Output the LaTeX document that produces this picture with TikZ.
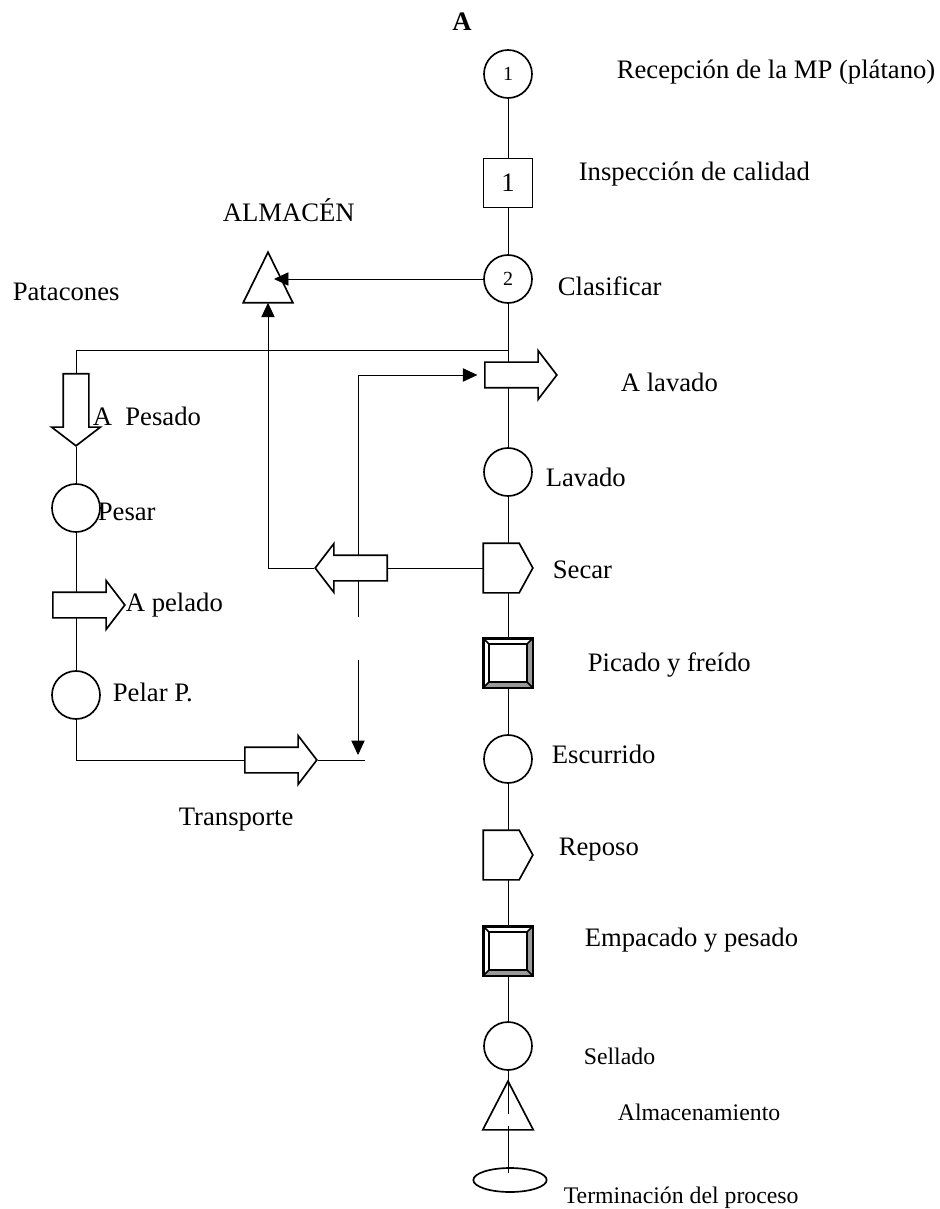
\documentclass[tikz,border=0pt]{standalone}
\usepackage{fontspec}
\setmainfont{Liberation Serif}
\usetikzlibrary{shapes.geometric,shapes.arrows,arrows.meta,calc,backgrounds}
\newcommand{\bevelbox}[1]{%
 \fill[black!40] (#1.south west) -- (#1.south east) -- ($(#1.south east)+(-6,-6)$) -- ($(#1.south west)+(6,-6)$) -- cycle;
 \fill[black!40] (#1.south east) -- (#1.north east) -- ($(#1.north east)+(-6,6)$) -- ($(#1.south east)+(-6,-6)$) -- cycle;
 \draw ($(#1.north west)+(6,6)$) rectangle ($(#1.south east)+(-6,-6)$);
 \draw (#1.north west) -- ++(6,6) (#1.north east) -- ++(-6,6) (#1.south west) -- ++(6,-6) (#1.south east) -- ++(-6,-6);
 \draw (#1.north west) rectangle (#1.south east);
}
\newcommand{\pentshape}[1]{%
 \draw[fill=white] (#1.north west) -- ($(#1.north west)+(36,0)$) -- (#1.east) -- ($(#1.south west)+(36,0)$) -- (#1.south west) -- cycle;
}
\newcommand{\trishape}[1]{%
 \draw (#1.north) -- (#1.south east) -- (#1.south west) -- cycle;
}
\begin{document}
\begin{tikzpicture}[x=0.45pt,y=-0.45pt, line width=0.75pt,
  op/.style={circle, draw, fill=white, minimum size=21.6pt, inner sep=0pt},
  insp/.style={rectangle, draw, fill=white, minimum size=22pt, inner sep=0pt},
  boxn/.style={rectangle, minimum width=21.6pt, minimum height=21.6pt, inner sep=0pt},
  barrow/.style={single arrow, draw, fill=white, inner xsep=0pt, inner ysep=5.4pt, minimum width=0pt, minimum height=32.4pt, single arrow head extend=5.2pt, single arrow tip angle=105},
  lbl/.style={anchor=base west, inner sep=0pt, font=\fontsize{12}{14}\selectfont},
  slbl/.style={anchor=base west, inner sep=0pt, font=\fontsize{10.7}{13}\selectfont},
  arr/.style={-{Triangle[length=6.5pt,width=6pt]}},
]
\useasboundingbox (0,0) rectangle (939,1209);

% main column
\node[op, font=\fontsize{9}{9}\selectfont] (c1) at (508,74) {\raisebox{-1.8pt}{1}};
\node[insp, font=\fontsize{12}{12}\selectfont] (s1) at (508,183) {1};
\node[op, font=\fontsize{9}{9}\selectfont] (c2) at (508,279) {\raisebox{-2.5pt}{2}};
\node[op] (lav) at (508,472) {};
\node[boxn] (sec) at (508,568) {};
\pentshape{sec}
\node[boxn, draw, fill=white] (pic) at (508,663) {};
\bevelbox{pic}
\node[op] (esc) at (508,759) {};
\node[boxn] (rep) at (508,855) {};
\pentshape{rep}
\node[boxn, draw, fill=white] (emp) at (508,951) {};
\bevelbox{emp}
\node[op] (sel) at (508,1046) {};
\node[boxn, minimum width=22pt, minimum height=21.2pt] (alm2) at (508,1105.5) {};
\trishape{alm2}
\node[ellipse, draw, minimum width=33pt, minimum height=10.8pt, inner sep=0pt] (fin) at (510,1180) {};

% storage triangle
\node[boxn, minimum height=22pt] (alm) at (268,277.5) {};
\trishape{alm}

% block arrows
\node[barrow, anchor=tail] (alav) at (484,375) {};
\node[barrow, rotate=180, anchor=tail] (sarr) at (388,568) {};
\node[barrow, rotate=-90, anchor=tail] (apes) at (76,373) {};
\node[barrow, anchor=tail] (apel) at (52,605) {};
\node[barrow, anchor=tail] (tra) at (244,760) {};

% left column
\node[op] (pes) at (76,508) {};
\node[op] (pel) at (76,695) {};

% free ends
\coordinate (j1) at (508,350);
\coordinate (t1) at (508,1114);
\coordinate (t2) at (508,1126);
\coordinate (t3) at (508,1173);
\coordinate (tend) at (365,760);
\coordinate (almin) at (274,279);
\coordinate (v1) at (358,617);
\coordinate (d1) at (358,660);
\coordinate (d2) at (358,755);

\begin{scope}[on background layer]
\draw (c1) -- (s1);
\draw (s1) -- (c2);
\draw (c2) -- (lav);
\draw (lav) -- (sec.north);
\draw (sec.south) -- (pic);
\draw (pic) -- (esc);
\draw (esc) -- (rep.north);
\draw (rep.south) -- (emp);
\draw (emp) -- (sel);
\draw (sel) -- (t1);
\draw (t2) -- (t3);
\draw (j1) -| (apes.tail);
\draw (apes.tip) -- (pes);
\draw (pes) -- (pel);
\draw (pel.south) |- (tra.tail);
\draw (tra.tip) -- (tend);
\draw (sec.west) -- (sarr.tail);
\draw[arr] (sarr.tip) -| (alm.south);
\draw[arr] (c2.west) -- (almin);
\draw[arr, shorten >=3pt] (v1) |- (alav.tail);
\draw[arr] (d1) -- (d2);
\end{scope}

% labels
\node[font=\fontsize{12}{14}\selectfont\bfseries, inner sep=0pt] (ttl) at (462,22) {A};
\node[lbl] (l1) at (616,79) {Recepción de la MP (plátano)};
\node[lbl] (l2) at (578,181) {Inspección de calidad};
\node[lbl] (l3) at (222,222) {ALMACÉN};
\node[lbl] (l4) at (557,296) {Clasificar};
\node[lbl] (l5) at (12,301) {Patacones};
\node[lbl] (l6) at (620,392) {A lavado};
\node[lbl] (l7) at (92,426) {A~~Pesado};
\node[lbl] (l8) at (545,486) {Lavado};
\node[lbl] (l9) at (97,520) {Pesar};
\node[lbl] (l10) at (552,578) {Secar};
\node[lbl] (l11) at (125,611) {A pelado};
\node[lbl] (l12) at (587,671) {Picado y freído};
\node[lbl] (l13) at (112,701) {Pelar P.};
\node[lbl] (l14) at (551,763) {Escurrido};
\node[lbl] (l15) at (178,825) {Transporte};
\node[lbl] (l16) at (558,855) {Reposo};
\node[lbl] (l17) at (584,946) {Empacado y pesado};
\node[slbl] (l18) at (583,1064) {Sellado};
\node[slbl] (l19) at (617,1120) {Almacenamiento};
\node[slbl] (l20) at (563,1203) {Terminación del proceso};
\end{tikzpicture}
\end{document}
